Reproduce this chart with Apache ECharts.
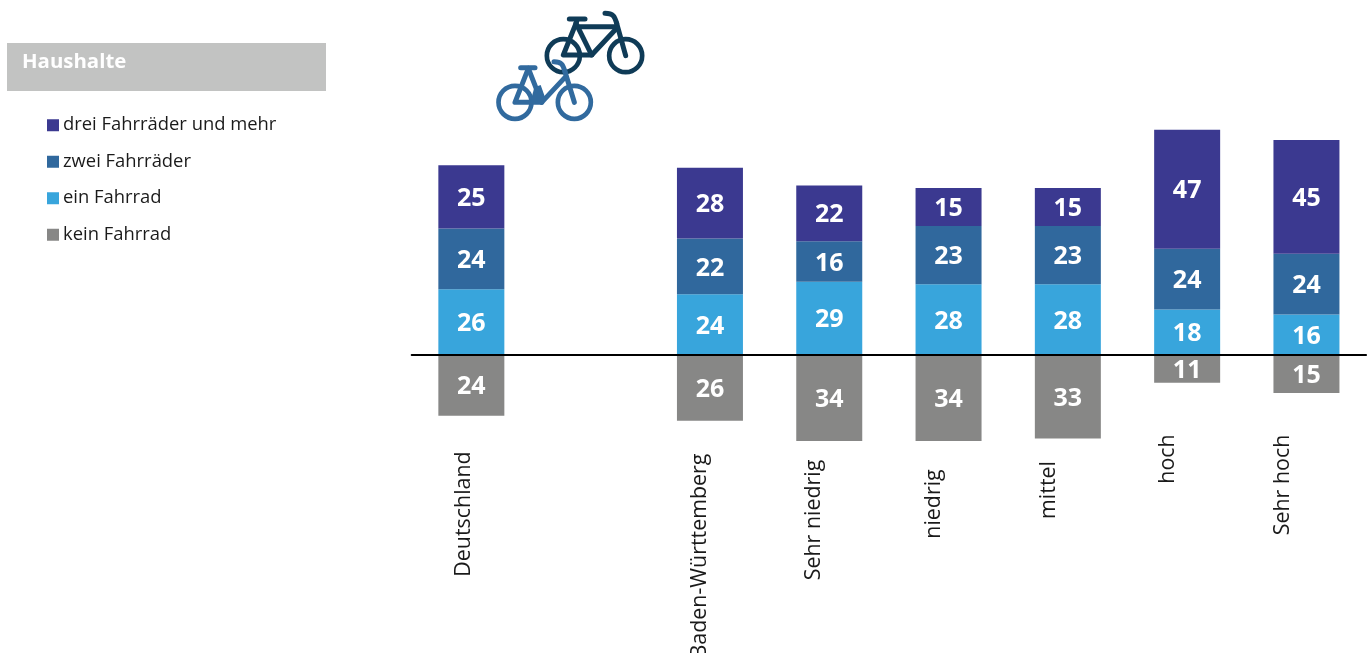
<!DOCTYPE html>
<html><head><meta charset="utf-8">
<style>html,body{margin:0;padding:0;background:#fff}#c{width:1367px;height:653px}</style>
<script src="https://cdn.jsdelivr.net/npm/echarts@6/dist/echarts.min.js"></script>
</head><body><div id="c"></div>
<script>
const categories = ['Deutschland','','Baden-Württemberg','Sehr niedrig','niedrig','mittel','hoch','Sehr hoch'];
const drei = [25,null,28,22,15,15,47,45];
const zwei = [24,null,22,16,23,23,24,24];
const ein  = [26,null,24,29,28,28,18,16];
const kein = [-24,null,-26,-34,-34,-33,-11,-15];
const seriesNames = ['drei Fahrräder und mehr','zwei Fahrräder','ein Fahrrad','kein Fahrrad'];
const title = 'Haushalte';

// layout of the hand-placed category labels: [left shift, vertical centre] in px
const labelLayout = [[7.5,514],[0,500],[10,556],[15,520],[15,504],[19,490],[19,459],[24,485]];
const anchorY = 500, labelMargin = 18.5;
const catData = categories.map((c,i)=>{
  const [dx,cy] = labelLayout[i];
  const d = cy - anchorY; // >0: move down
  return {value:c, textStyle:{align:'center',verticalAlign:'bottom',lineHeight:2*dx||1,padding:[0, d>0?2*d:0, 0, d<0?-2*d:0]}};
});

const chart = echarts.init(document.getElementById('c'), null, {renderer:'canvas'});
const mk = (name,data,color)=>({
  name, type:'bar', stack:'a', data, barWidth:66,
  itemStyle:{color},
  label:{show:true, position:'inside', offset:[0,2], color:'#fff', fontFamily:'Open Sans', fontWeight:'bold', fontSize:25,
    formatter:p=>Math.abs(p.value)}
});
const S = 1/3, O = [480,0];
const base = {x:O[0],y:O[1],scaleX:S,scaleY:S,silent:true};
const wheel = (cx,cy,color)=>({...base,type:'circle',shape:{cx,cy,r:49.5},style:{fill:null,stroke:color,lineWidth:14}});
const line = (pts,color,lw=15)=>({...base,type:'polyline',shape:{points:pts},style:{fill:null,stroke:color,lineWidth:lw,lineCap:'round',lineJoin:'round'}});
const curve = (a,b,c,d,color)=>({...base,type:'bezierCurve',shape:{x1:a[0],y1:a[1],cpx1:b[0],cpy1:b[1],cpx2:c[0],cpy2:c[1],x2:d[0],y2:d[1]},style:{fill:null,stroke:color,lineWidth:15,lineCap:'round'}});
const poly = (pts,color)=>({...base,type:'polygon',shape:{points:pts},style:{fill:color}});
const dark='#0F3B57', blue='#316A9E';
chart.setOption({
  animation:false,
  title:{text:title,left:22,top:52,padding:0,textStyle:{color:'#fff',fontFamily:'Open Sans',fontWeight:'bold',fontSize:20.4}},
  legend:{orient:'vertical',left:47,top:115,padding:0,itemWidth:12,itemHeight:12,itemGap:16,icon:'rect',selectedMode:false,
    data:seriesNames,textStyle:{color:'#1a1a1a',fontFamily:'Open Sans',fontSize:18.4,padding:[0,0,0,-1],lineHeight:20.5}},
  grid:{left:411.7,width:954.4,top:102,height:379.5,containLabel:false,outerBoundsMode:'none'},
  xAxis:{type:'category',data:catData,axisLine:{onZero:true,lineStyle:{color:'#000',width:2}},axisTick:{show:false},z:5,
    axisLabel:{interval:0,rotate:90,margin:labelMargin,align:'center',verticalAlign:'middle',hideOverlap:false,
      color:'#1a1a1a',fontFamily:'Open Sans',fontSize:21.4}},
  yAxis:{type:'value',min:-50,max:100,show:false,splitLine:{show:false}},
  series:[mk(seriesNames[2],ein,'#38A5DC'),mk(seriesNames[1],zwei,'#30689D'),mk(seriesNames[0],drei,'#3B3990'),mk(seriesNames[3],kein,'#878786')],
  graphic:[
    {type:'rect',z:-1,silent:true,shape:{x:7,y:43,width:319,height:48},style:{fill:'#C2C3C2'}},
    wheel(250,167,dark),wheel(437,167,dark),
    line([[290,65],[250,165],[335,165],[410,85]],dark),
    line([[298,80],[410,80]],dark),
    line([[288,70],[335,165]],dark),
    line([[437,167],[410,70]],dark),
    curve([410,70],[404,50],[400,40],[375,40],dark),
    line([[268,57],[315,57]],dark),
    wheel(105,307,blue),wheel(283,307,blue),
    line([[145,205],[105,307],[185,307],[255,232]],blue),
    line([[145,205],[185,307]],blue),
    line([[283,307],[255,215]],blue),
    curve([255,215],[249,195],[245,185],[222,185],blue),
    poly([[163,262],[182,255],[198,300],[185,312],[150,312]],blue),
    line([[122,203],[165,203]],blue)
  ]
});
</script></body></html>
